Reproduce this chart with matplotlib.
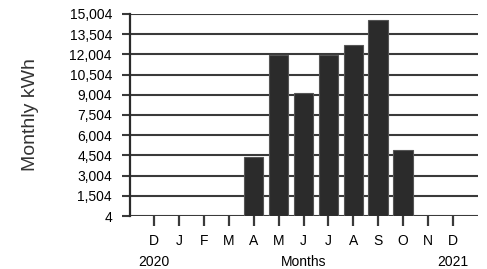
import matplotlib.pyplot as plt

plt.rcParams['font.family'] = ['Liberation Sans', 'DejaVu Sans']

months = ['D', 'J', 'F', 'M', 'A', 'M', 'J', 'J', 'A', 'S', 'O', 'N', 'D']
kwh = [0, 0, 0, 0, 4400, 11950, 9150, 11950, 12700, 14550, 4900, 0, 0]
yticks = [4, 1504, 3004, 4504, 6004, 7504, 9004, 10504, 12004, 13504, 15004]

fig = plt.figure(figsize=(4.87, 2.69), dpi=100)
ax = fig.add_axes([0.267, 0.197, 0.714, 0.751])

x = list(range(len(months)))
ax.bar(x, kwh, width=0.78, color='#2b2b2b', edgecolor='#555555', linewidth=0.8, zorder=3)

ax.set_ylim(4, 15004)
ax.set_xlim(-0.97, 13)
ax.set_yticks(yticks)
ax.set_yticklabels([f'{v:,}' for v in yticks])
ax.yaxis.grid(True, color='#3a3a3a', linewidth=1.5, zorder=1)
ax.set_xticks(x)
ax.set_xticklabels(months)

for s in ['top', 'right', 'bottom']:
    ax.spines[s].set_visible(False)
ax.spines['left'].set_linewidth(1.6)
ax.spines['left'].set_color('#2a2a2a')

ax.tick_params(axis='y', length=6, width=1.5, color='#3a3a3a', labelsize=10, pad=7)
ax.tick_params(axis='x', length=7, width=1.6, color='#3a3a3a', labelsize=10, pad=6)

ax.set_ylabel('Monthly kWh', fontsize=14, color='#333333', labelpad=22)
ax.text(0, -0.23, '2020', transform=ax.get_xaxis_transform(), ha='center', va='center', fontsize=10)
ax.text(6, -0.23, 'Months', transform=ax.get_xaxis_transform(), ha='center', va='center', fontsize=10)
ax.text(12, -0.23, '2021', transform=ax.get_xaxis_transform(), ha='center', va='center', fontsize=10)

fig.savefig('out.png', dpi=100)
